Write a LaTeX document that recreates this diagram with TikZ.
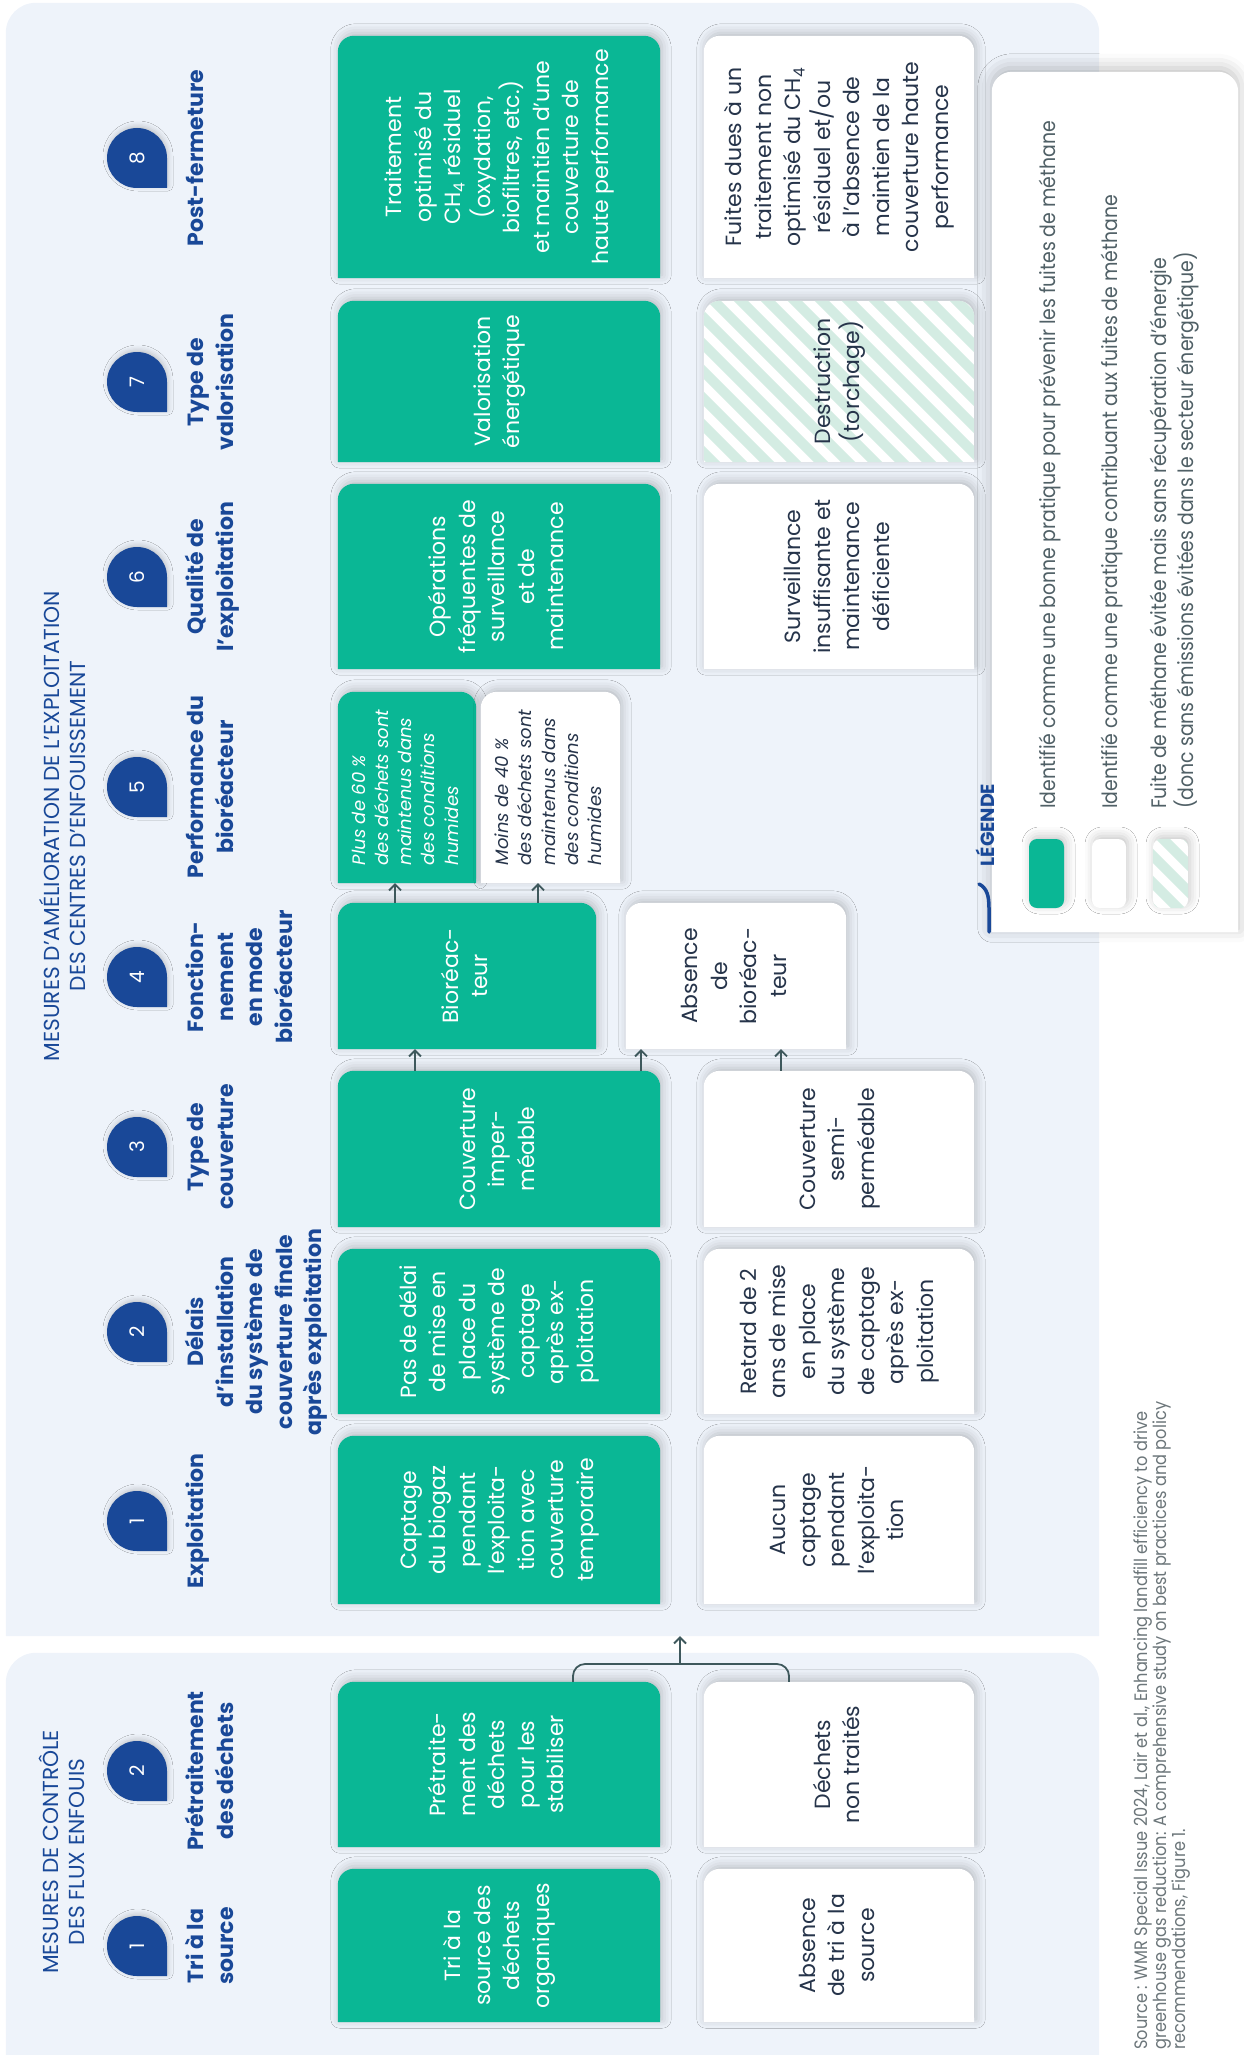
\documentclass[tikz,border=0pt]{standalone}
\usepackage{fontspec}
\setmainfont{Poppins}
\newfontfamily\narrowfont[FakeStretch=0.9]{Poppins}
\usetikzlibrary{arrows.meta}
\usetikzlibrary{shadows.blur}
\pgfdeclarelayer{background}
\pgfsetlayers{background,main}

\definecolor{panelbg}{RGB}{238,243,250}
\definecolor{greenbox}{RGB}{10,183,149}
\definecolor{hblue}{RGB}{25,72,152}
\definecolor{dtxt}{RGB}{38,52,74}
\definecolor{arrowc}{RGB}{62,88,92}
\definecolor{mint}{RGB}{212,236,227}
\definecolor{legtxt}{RGB}{80,96,102}
\definecolor{srctxt}{RGB}{108,118,122}

% vertical text, centred or flush left
\newcommand\vt[1]{\rotatebox{90}{\begin{tabular}{@{}c@{}}#1\end{tabular}}}
\newcommand\vl[1]{\rotatebox{90}{\begin{tabular}{@{}l@{}}#1\end{tabular}}}

\tikzset{
  gtxt/.style={inner sep=0, text=white, font=\fontsize{22}{29.5}\selectfont},
  wtxt/.style={inner sep=0, text=dtxt, font=\fontsize{22}{29.5}\selectfont},
  gw/.style={minimum width=322},
  ww/.style={minimum width=270},
  hd/.style={inner sep=0, anchor=west, text=hblue, font=\bfseries\fontsize{22}{29.5}\selectfont},
  ttl/.style={inner sep=0, anchor=west, text=hblue, font=\fontsize{21.7}{26}\selectfont},
  num/.style={inner sep=0, text=white, font=\fontsize{20}{22}\selectfont},
  boxshadow/.style={blur shadow={shadow xshift=2pt, shadow yshift=3pt, shadow blur radius=9pt, shadow opacity=22}},
  arr/.style={draw=arrowc, line width=1.8pt, -{Straight Barb[length=6pt,width=12pt]}},
  conn/.style={draw=arrowc, line width=1.8pt, rounded corners=12},
  legtext/.style={inner sep=0, anchor=south, text=legtxt, font=\narrowfont\fontsize{21}{25}\selectfont},
}

\begin{document}
\begin{tikzpicture}[x=1pt, y=-1pt]
\useasboundingbox (0,0) rectangle (1243,2055);

% panels and legend frame
\node[inner sep=0, minimum width=1093, minimum height=1633] (upper) at (552.5,819.5) {};
\node[inner sep=0, minimum width=1093, minimum height=427] (lower) at (552.5,1866.5) {};
\node[inner sep=0, minimum width=246, minimum height=860] (leg) at (1115,502) {};

\node[ttl] (tup) at (39,826) {\vt{MESURES D’AMÉLIORATION DE L’EXPLOITATION\\DES CENTRES D’ENFOUISSEMENT}};
\node[ttl] (tlow) at (39,1852) {\vt{MESURES DE CONTRÔLE\\DES FLUX ENFOUIS}};

% badges
\foreach \y/\k in {1521/1,1332/2,1147/3,977/4,787/5,577/6,382/7,158/8}{
  \fill[hblue, blur shadow={shadow xshift=1pt, shadow yshift=2pt, shadow blur radius=5pt, shadow opacity=20}]
    (167,\y) -- ({167},{\y+30}) -- ({137},{\y+30}) arc[start angle=90, end angle=360, radius=30] -- cycle;
  \node[num] (bc\k) at (137,\y) {\rotatebox{90}{\k}};
}
\foreach \y/\k in {1946/1,1771/2}{
  \fill[hblue, blur shadow={shadow xshift=1pt, shadow yshift=2pt, shadow blur radius=5pt, shadow opacity=20}]
    (167,\y) -- ({167},{\y+30}) -- ({137},{\y+30}) arc[start angle=90, end angle=360, radius=30] -- cycle;
  \node[num] (bp\k) at (137,\y) {\rotatebox{90}{\k}};
}

% column headings
\node[hd] (hc1) at (183,1521) {\vt{Exploitation}};
\node[hd] (hc2) at (183,1332) {\vt{Délais\\d’installation\\du système de\\couverture finale\\après exploitation}};
\node[hd] (hc3) at (183,1147) {\vt{Type de\\couverture}};
\node[hd] (hc4) at (183,977) {\vt{Fonction-\\nement\\en mode\\bioréacteur}};
\node[hd] (hc5) at (183,787) {\vt{Performance du\\bioréacteur}};
\node[hd] (hc6) at (183,577) {\vt{Qualité de\\l’exploitation}};
\node[hd] (hc7) at (183,382) {\vt{Type de\\valorisation}};
\node[hd] (hc8) at (183,158) {\vt{Post-fermeture}};
\node[hd] (hp1) at (183,1946) {\vt{Tri à la\\source}};
\node[hd] (hp2) at (183,1771) {\vt{Prétraitement\\des déchets}};

% boxes
\node[gtxt, gw, minimum height=168] (c1g) at (499,1520) {\vt{Captage\\du biogaz\\pendant\\l’exploita-\\tion avec\\couverture\\temporaire}};
\node[wtxt, ww, minimum height=168] (c1w) at (839,1520) {\vt{Aucun\\captage\\pendant\\l’exploita-\\tion}};
\node[gtxt, gw, minimum height=165] (c2g) at (499,1331.5) {\vt{Pas de délai\\de mise en\\place du\\système de\\captage\\après ex-\\ploitation}};
\node[wtxt, ww, minimum height=165] (c2w) at (839,1331.5) {\vt{Retard de 2\\ans de mise\\en place\\du système\\de captage\\après ex-\\ploitation}};
\node[gtxt, gw, minimum height=156] (c3g) at (499,1149) {\vt{Couverture\\imper-\\méable}};
\node[wtxt, ww, minimum height=156] (c3w) at (839,1149) {\vt{Couverture\\semi-\\perméable}};
\node[gtxt, minimum width=258, minimum height=146] (c4g) at (467,976) {\vt{Bioréac-\\teur}};
\node[wtxt, minimum width=220, minimum height=146] (c4w) at (736,976) {\vt{Absence\\de\\bioréac-\\teur}};
\node[gtxt, minimum width=138, minimum height=191, font=\itshape\fontsize{18}{23.3}\selectfont] (c5g) at (407,787.5) {\vl{Plus de 60 \%\\des déchets sont\\maintenus dans\\des conditions\\humides}};
\node[wtxt, minimum width=139, minimum height=191, font=\itshape\fontsize{18}{23.3}\selectfont] (c5w) at (550.5,787.5) {\vl{Moins de 40 \%\\des déchets sont\\maintenus dans\\des conditions\\humides}};
\node[gtxt, gw, minimum height=185] (c6g) at (499,576.5) {\vt{Opérations\\fréquentes de\\surveillance\\et de\\maintenance}};
\node[wtxt, ww, minimum height=185] (c6w) at (839,576.5) {\vt{Surveillance\\insuffisante et\\maintenance\\déficiente}};
\node[gtxt, gw, minimum height=161] (c7g) at (499,381.5) {\vt{Valorisation\\énergétique}};
\node[wtxt, ww, minimum height=161] (c7w) at (839,381.5) {\vt{Destruction\\(torchage)}};
\node[gtxt, gw, minimum height=242] (c8g) at (499,157) {\vt{Traitement\\optimisé du\\CH\textsubscript{4} résiduel\\(oxydation,\\biofiltres, etc.)\\et maintien d’une\\couverture de\\haute performance}};
\node[wtxt, ww, minimum height=242] (c8w) at (839,157) {\vt{Fuites dues à un\\traitement non\\optimisé du CH\textsubscript{4}\\résiduel et/ou\\à l’absence de\\maintien de la\\couverture haute\\performance}};
\node[gtxt, gw, minimum height=153] (p1g) at (499,1945.5) {\vt{Tri à la\\source des\\déchets\\organiques}};
\node[wtxt, ww, minimum height=153] (p1w) at (839,1945.5) {\vt{Absence\\de tri à la\\source}};
\node[gtxt, gw, minimum height=165] (p2g) at (499,1764.5) {\vt{Prétraite-\\ment des\\déchets\\pour les\\stabiliser}};
\node[wtxt, ww, minimum height=165] (p2w) at (839,1764.5) {\vt{Déchets\\non traités}};

% connectors
\draw[arr] (415,0 |- c3g.north) -- (415,0 |- c4g.south);
\draw[arr] (641,0 |- c3g.north) -- (641,0 |- c4w.south);
\draw[arr] (781,0 |- c3w.north) -- (781,0 |- c4w.south);
\draw[arr] (395,0 |- c4g.north) -- (395,0 |- c5g.south);
\draw[arr] (538,0 |- c4g.north) -- (538,0 |- c5w.south);
\coordinate (brk) at (680,1664);
\draw[conn] (573,0 |- p2g.north) -- (573,0 |- brk) -- (789,0 |- brk) -- (789,0 |- p2w.north);
\draw[arr] (brk) -- (brk |- upper.south);

% legend
\node[inner sep=0, text=hblue, font=\bfseries\fontsize{19}{22}\selectfont] (legt) at (985,825) {\rotatebox{90}{LÉGENDE}};
\draw[hblue, line width=3.5pt, line cap=round] (979,884) .. controls (987,888) and (989,896) .. (989,908) -- (989,932);
\node[inner sep=0, minimum width=35, minimum height=69, rounded corners=8, fill=greenbox, boxshadow] (sw1) at (1046.5,873.5) {};
\node[inner sep=0, minimum width=34, minimum height=69, rounded corners=8, fill=white, boxshadow] (sw2) at (1109,873.5) {};
\node[inner sep=0, minimum width=35, minimum height=69, rounded corners=8, fill=white, boxshadow] (sw3) at (1170.5,873.5) {};
\begin{scope}
  \clip[rounded corners=8] (sw3.south west) rectangle (sw3.north east);
  \foreach \s in {0,...,6}
    \draw[mint, line width=10] ({1073+27*\s},830) -- ++(90,90);
\end{scope}
\node[legtext] (lt1) at (1050,809) {\vl{Identifié comme une bonne pratique pour prévenir les fuites de méthane}};
\node[legtext] (lt2) at (1112,809) {\vl{Identifié comme une pratique contribuant aux fuites de méthane}};
\node[legtext] (lt3) at (1175,809) {\vl{Fuite de méthane évitée mais sans récupération d’énergie\\(donc sans émissions évitées dans le secteur énergétique)}};

\node[inner sep=0, anchor=south, text=srctxt, font=\narrowfont\fontsize{18}{15.5}\selectfont] (src) at (1162,2050) {\vl{Source : WMR Special Issue 2024, Lair et al., Enhancing landfill efficiency to drive\\greenhouse gas reduction: A comprehensive study on best practices and policy\\recommendations, Figure 1.}};

% shapes behind the texts
\begin{pgfonlayer}{background}
  \foreach \n in {upper,lower}
    \fill[panelbg] (\n.south west) [rounded corners=30] -- (\n.north west) -- (\n.north east) [sharp corners] -- (\n.south east) -- cycle;
  \fill[white, blur shadow={shadow xshift=0pt, shadow yshift=4pt, shadow blur radius=14pt, shadow opacity=25}]
    (leg.south west) [rounded corners=20] -- (leg.north west) -- (leg.north east) [sharp corners] -- (leg.south east) -- cycle;
  \foreach \n in {c1g,c2g,c3g,c4g,c5g,c6g,c7g,c8g,p1g,p2g}
    \fill[greenbox, boxshadow] (\n.south west) [rounded corners=16] -- (\n.north west) -- (\n.north east) [sharp corners] -- (\n.south east) -- cycle;
  \foreach \n in {c1w,c2w,c3w,c4w,c5w,c6w,c7w,c8w,p1w,p2w}
    \fill[white, boxshadow] (\n.south west) [rounded corners=16] -- (\n.north west) -- (\n.north east) [sharp corners] -- (\n.south east) -- cycle;
  \begin{scope}
    \clip (c7w.south west) [rounded corners=16] -- (c7w.north west) -- (c7w.north east) [sharp corners] -- (c7w.south east) -- cycle;
    \foreach \s in {0,...,18}
      \draw[mint, line width=10] ({514+27*\s},290) -- ++(190,190);
  \end{scope}
\end{pgfonlayer}
\end{tikzpicture}
\end{document}
